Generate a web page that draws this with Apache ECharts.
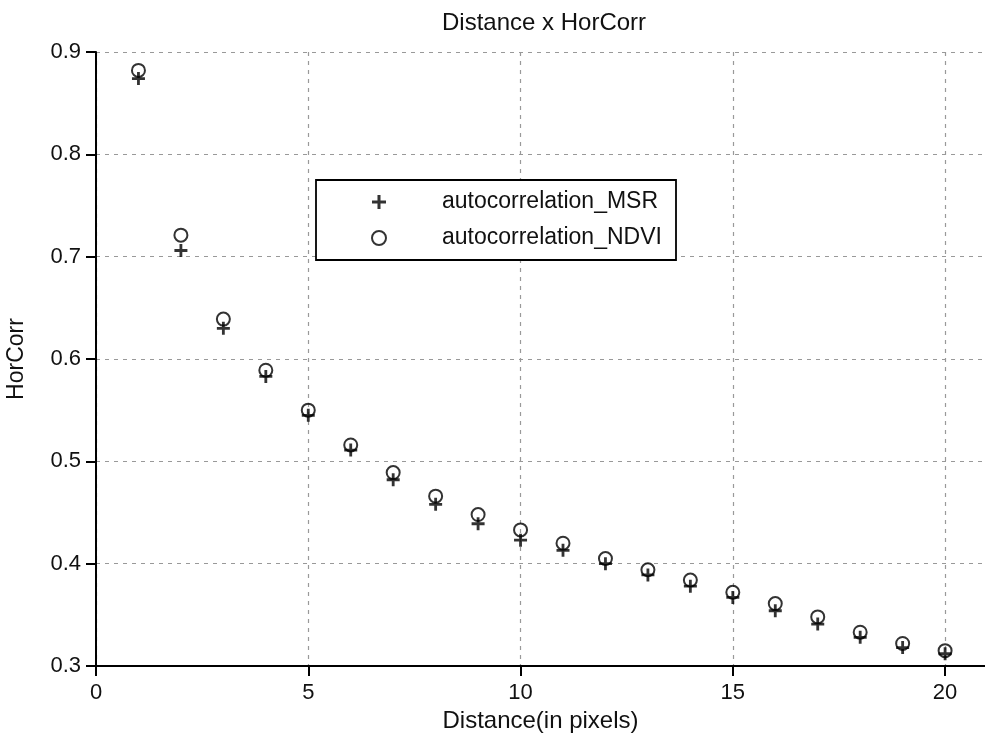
<!DOCTYPE html>
<html>
<head>
<meta charset="utf-8">
<script src="https://cdn.jsdelivr.net/npm/echarts@6/dist/echarts.min.js"></script>
<style>
html,body{margin:0;padding:0;background:#fff;}
#main{width:985px;height:736px;}
</style>
</head>
<body>
<div id="main"></div>
<script>
const distance = [1,2,3,4,5,6,7,8,9,10,11,12,13,14,15,16,17,18,19,20];
const autocorrMSR = [0.874,0.706,0.630,0.583,0.545,0.511,0.482,0.458,0.439,0.423,0.413,0.400,0.389,0.378,0.367,0.354,0.341,0.328,0.318,0.312];
const autocorrNDVI = [0.882,0.721,0.639,0.589,0.550,0.516,0.489,0.466,0.448,0.433,0.420,0.405,0.394,0.384,0.372,0.361,0.348,0.333,0.322,0.315];
const yTicks = [0.3,0.4,0.5,0.6,0.7,0.8,0.9];
const xTicks = [0,5,10,15,20];
const seriesNames = ['autocorrelation_MSR','autocorrelation_NDVI'];
const titleText = 'Distance x HorCorr';
const xName = 'Distance(in pixels)';
const yName = 'HorCorr';

const FONT = '"Liberation Sans", Arial, sans-serif';
const plusPath = 'path://M4.7,0H7.3V4.7H12V7.3H7.3V12H4.7V7.3H0V4.7H4.7Z';

const chart = echarts.init(document.getElementById('main'), null, {renderer:'canvas'});
chart.setOption({
  backgroundColor:'#fff',
  animation:false,
  title:{
    text:titleText, left:437, top:6,
    textStyle:{fontFamily:FONT, fontSize:24, fontWeight:'normal', color:'#111'}
  },
  grid:{left:96, right:0, top:52, bottom:70, outerBoundsMode:'none', containLabel:false},
  legend:{
    orient:'vertical', left:316, top:180,
    data:seriesNames,
    backgroundColor:'#fff', borderColor:'#000', borderWidth:1.8,
    padding:[9,10,9,55],
    itemWidth:14, itemHeight:14, itemGap:10,
    textStyle:{fontFamily:FONT, fontSize:23, color:'#111', lineHeight:26, width:224, padding:[0,0,0,51]}
  },
  xAxis:{
    type:'value', min:0, max:20.94, interval:5,
    name:xName, nameLocation:'middle', nameGap:40,
    nameTextStyle:{fontFamily:FONT, fontSize:24, color:'#111'},
    axisLine:{show:true, onZero:false, lineStyle:{color:'#000', width:2}},
    axisTick:{show:true, inside:false, length:10, lineStyle:{color:'#000', width:2}, customValues:xTicks},
    axisLabel:{fontFamily:FONT, fontSize:22, color:'#111', margin:16, customValues:xTicks},
    splitLine:{show:true, lineStyle:{color:'#999', type:[4,5], width:1.2}}
  },
  yAxis:{
    type:'value', min:0.3, max:0.9, interval:0.1,
    name:yName, nameLocation:'middle', nameGap:68,
    nameTextStyle:{fontFamily:FONT, fontSize:23, color:'#111'},
    axisLine:{show:true, onZero:false, lineStyle:{color:'#000', width:2}},
    axisTick:{show:true, inside:false, length:10, lineStyle:{color:'#000', width:2}},
    axisLabel:{fontFamily:FONT, fontSize:22, color:'#111', margin:15, formatter:v=>v.toFixed(1)},
    splitLine:{show:true, lineStyle:{color:'#999', type:[4,5], width:1.2}}
  },
  series:[
    {
      name:seriesNames[0], type:'scatter',
      data:distance.map((d,i)=>[d, autocorrMSR[i]]),
      symbol:plusPath, symbolSize:13,
      itemStyle:{color:'#000'}, z:2
    },
    {
      name:seriesNames[1], type:'scatter',
      data:distance.map((d,i)=>[d, autocorrNDVI[i]]),
      symbol:'circle', symbolSize:13,
      itemStyle:{color:'rgba(0,0,0,0)', borderColor:'#000', borderWidth:2}, z:3
    }
  ]
});
</script>
</body>
</html>
